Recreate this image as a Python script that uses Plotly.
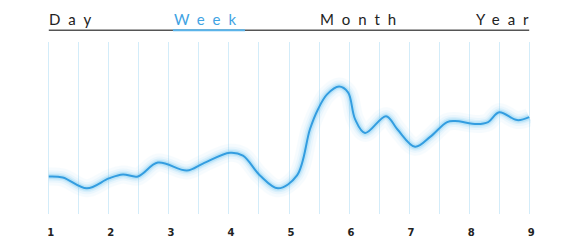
import plotly.graph_objects as go

# Data (x in day units 1..9, y in arbitrary units)
px_x = [49, 63, 87, 109, 123, 138, 158, 187, 203, 230, 243, 260, 278, 297, 310,
        318, 327, 339, 348, 355, 365, 386, 397, 415, 430, 447, 455, 477, 488, 499, 517, 529]
px_y = [178, 179, 190, 180, 176, 178, 164, 172, 165, 154, 157, 177, 190, 177, 130,
        110, 95, 87, 93, 120, 134, 117, 130, 148, 138, 123, 122, 125, 123, 113, 121, 118]
x_vals = [1 + (p - 49) / 60 for p in px_x]
y_vals = [216 - p for p in px_y]

tick_vals = [1 + 0.5 * i for i in range(17)]
tick_text = [str(int(v)) if v == int(v) else "" for v in tick_vals]
tabs = ["Day", "Week", "Month", "Year"]

L, R, PW = 47, 54, 484


def dx(p):
    return 1 + (p - 49) / 60


def pxp(p):
    return (p - L) / PW


fig = go.Figure()
# glow layers
for w, op in [(18, 0.05), (12, 0.08), (8, 0.14), (5, 0.25)]:
    fig.add_trace(go.Scatter(x=x_vals, y=y_vals, mode="lines",
                             line=dict(color="#6cc6f2", width=w, shape="spline", smoothing=1.0),
                             opacity=op, hoverinfo="skip", showlegend=False))
fig.add_trace(go.Scatter(x=x_vals, y=y_vals, mode="lines",
                         line=dict(color="#339de0", width=2, shape="spline", smoothing=1.0),
                         showlegend=False))

HY = (250 - 30 - 34) / 174  # header line in paper coords
TY = (250 - 19 - 34) / 174

fig.update_layout(
    width=585, height=250,
    margin=dict(l=L, r=R, t=42, b=34),
    paper_bgcolor="white", plot_bgcolor="white",
    xaxis=dict(range=[0.97, 9.03], tickvals=tick_vals, ticktext=tick_text,
               showgrid=True, gridcolor="#d3ecf9", gridwidth=1, zeroline=False,
               showline=False, ticks="",
               tickfont=dict(family="DejaVu Sans", size=10, color="#222", weight="bold"),
               ticklabelstandoff=11, ticklabelshift=2),
    yaxis=dict(range=[0, 174], visible=False, showgrid=False, zeroline=False),
)

# header line and underline
fig.add_shape(type="line", xref="x", yref="paper", x0=dx(49), x1=dx(529),
              y0=HY, y1=HY, line=dict(color="#555555", width=1.5))
fig.add_shape(type="line", xref="x", yref="paper", x0=dx(173), x1=dx(245),
              y0=HY, y1=HY, line=dict(color="#5ab4ea", width=2))

tab_x = [47, 172, 318, 474]
tab_col = ["#222222", "#3fa3e3", "#222222", "#222222"]
for t, xp, c in zip(tabs, tab_x, tab_col):
    fig.add_annotation(xref="paper", yref="paper", x=pxp(xp), y=TY,
                       text=f'<span style="letter-spacing:8px">{t}</span>',
                       showarrow=False, xanchor="left", yanchor="middle",
                       font=dict(family="Lato", size=15, color=c))

fig.write_html("out.html")
